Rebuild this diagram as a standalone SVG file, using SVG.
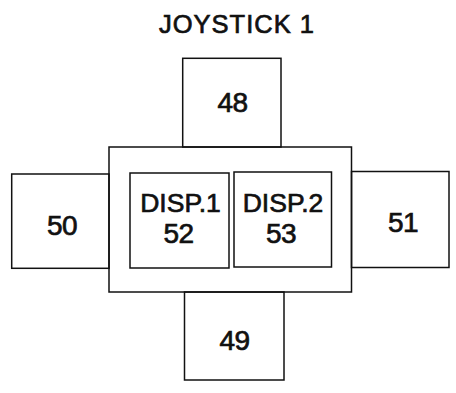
<svg xmlns="http://www.w3.org/2000/svg" width="456" height="393" viewBox="0 0 456 393">
<style>
.b{fill:none;stroke:#111;stroke-width:1.5}
.t{font-family:"Liberation Sans",Arial,sans-serif;fill:#111;stroke:#111;stroke-width:0.7;text-anchor:middle}
</style>
<rect width="456" height="393" fill="#fff"/>
<text class="t" x="237" y="33" font-size="25.5" letter-spacing="1">JOYSTICK 1</text>
<g id="n48"><rect class="b" x="182.7" y="58.3" width="98.3" height="88.7"/><text class="t" x="232.5" y="112" font-size="28" letter-spacing="-0.5">48</text></g>
<g id="frame"><rect class="b" x="109" y="147" width="242.5" height="145"/></g>
<g id="n50"><rect class="b" x="11.7" y="174" width="97.3" height="94.3"/><text class="t" x="62" y="235" font-size="28" letter-spacing="-0.5">50</text></g>
<g id="n51"><rect class="b" x="351.5" y="171.5" width="97.5" height="96"/><text class="t" x="403" y="232" font-size="28" letter-spacing="-0.5">51</text></g>
<g id="n52"><rect class="b" x="130" y="173" width="99" height="95"/><text class="t" x="180.5" y="212" font-size="26.5">DISP.1</text><text class="t" x="178.5" y="243" font-size="28" letter-spacing="-0.5">52</text></g>
<g id="n53"><rect class="b" x="234" y="172" width="97.5" height="95"/><text class="t" x="283" y="212" font-size="26.5">DISP.2</text><text class="t" x="281" y="243" font-size="28" letter-spacing="-0.5">53</text></g>
<g id="n49"><rect class="b" x="184.5" y="292" width="99.5" height="88"/><text class="t" x="234.5" y="350" font-size="28" letter-spacing="-0.5">49</text></g>
<g id="connectors"></g>
</svg>
